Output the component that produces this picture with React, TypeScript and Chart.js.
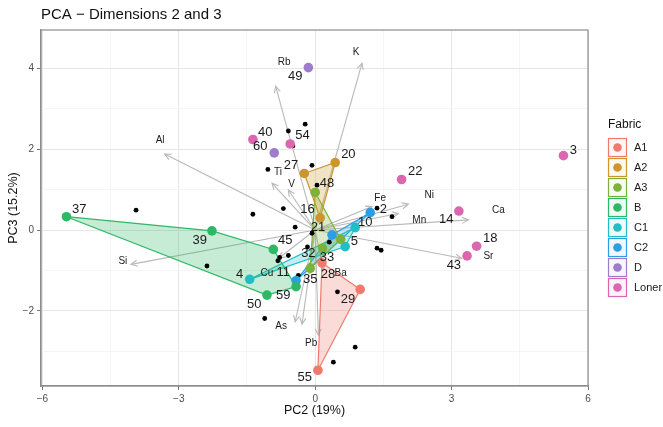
import React, { useEffect, useRef } from 'react';
import { Chart, registerables } from 'chart.js';

Chart.register(...registerables);

const FONT = "'Liberation Sans', Arial, Helvetica, sans-serif";

const chartTitle = 'PCA \u2212 Dimensions 2 and 3';
const xTitle = 'PC2 (19%)';
const yTitle = 'PC3 (15.2%)';
const legendTitle = 'Fabric';

const fabrics = ['A1', 'A2', 'A3', 'B', 'C1', 'C2', 'D', 'Loner'];
const fabricColors = ['#F07A6C', '#CC962C', '#7CB23A', '#2DB865', '#22BEC6', '#2C9EE4', '#9E7CCB', '#DC66B0'];
const hullFabrics = ['A1', 'A2', 'A3', 'B', 'C1', 'C2'];

const xTicks = [-6, -4.5, -3, -1.5, 0, 1.5, 3, 4.5, 6];
const yTicks = [-3, -2, -1, 0, 1, 2, 3, 4];
const xRange = [-6.03, 6.0];
const yRange = [-3.86, 4.95];

// Samples with a fabric group
const sampleIds = ['55', '28', '29', '27', '20', '16', '48', '33', '32', '11', '37', '39', '45', '59', '50', '4', '10', '5', '2', '21', '35', '49', '60', '3', '22', '40', '54', '14', '18', '43'];
const sampleFabric = ['A1', 'A1', 'A1', 'A2', 'A2', 'A2', 'A3', 'A3', 'A3', 'A3', 'B', 'B', 'B', 'B', 'B', 'C1', 'C1', 'C1', 'C2', 'C2', 'C2', 'D', 'D', 'Loner', 'Loner', 'Loner', 'Loner', 'Loner', 'Loner', 'Loner'];
const samplePC2 = [0.06, 0.15, 0.99, -0.24, 0.44, 0.11, 0.0, 0.56, 0.16, -0.11, -5.47, -2.27, -0.92, -0.42, -1.06, -1.44, 0.88, 0.66, 1.21, 0.37, -0.42, -0.15, -0.9, 5.46, 1.9, -1.37, -0.55, 3.16, 3.55, 3.34];
const samplePC3 = [-3.47, -0.81, -1.47, 1.4, 1.67, 0.3, 0.93, -0.23, -0.45, -0.95, 0.33, -0.02, -0.48, -1.4, -1.61, -1.22, 0.06, -0.41, 0.43, -0.12, -1.25, 4.02, 1.91, 1.84, 1.25, 2.24, 2.13, 0.47, -0.4, -0.64];
const labelPC2 = [-0.23, 0.28, 0.72, -0.53, 0.73, -0.17, 0.26, 0.26, -0.15, -0.7, -5.19, -2.54, -0.66, -0.7, -1.34, -1.66, 1.1, 0.86, 1.5, 0.06, -0.11, -0.44, -1.21, 5.68, 2.2, -1.1, -0.28, 2.88, 3.85, 3.05];
const labelPC3 = [-3.66, -1.11, -1.72, 1.59, 1.87, 0.51, 1.15, -0.68, -0.58, -1.06, 0.52, -0.25, -0.25, -1.61, -1.83, -1.09, 0.19, -0.29, 0.51, 0.07, -1.22, 3.81, 2.06, 1.96, 1.44, 2.42, 2.33, 0.25, -0.21, -0.87];

// Samples without a fabric group (small black dots)
const otherPC2 = [-0.22, -0.59, -0.49, -0.07, -1.04, 0.04, -0.7, -3.94, -1.37, -0.44, -2.38, -0.59, -0.78, -0.82, -0.17, -0.37, -1.11, -0.07, 0.31, 1.36, 1.45, 1.36, 1.69, 0.49, 0.88, 0.4];
const otherPC3 = [2.62, 2.45, 2.08, 1.6, 1.5, 1.11, 0.53, 0.49, 0.39, 0.07, -0.89, -0.63, -0.68, -0.76, -0.42, -1.12, -2.19, -0.08, -0.3, -0.45, -0.5, 0.54, 0.33, -1.53, -2.9, -3.27];

// Variable loadings (arrows)
const varNames = ['K', 'Rb', 'Al', 'Ti', 'V', 'Si', 'Cu', 'As', '', 'Pb', 'Ba', 'Fe', 'Ni', 'Mn', 'Ca', 'Sr'];
const varPC2 = [1.03, -0.87, -3.31, -0.95, -0.59, -4.05, -0.8, -0.44, -0.29, 0.07, 0.18, 1.25, 2.05, 1.83, 3.37, 3.22];
const varPC3 = [4.13, 3.56, 1.88, 1.16, 0.99, -0.85, -0.7, -2.27, -2.33, -2.6, -1.0, 0.58, 0.64, 0.41, 0.25, -0.7];
const varLabelPC2 = [0.9, -0.68, -3.41, -0.82, -0.52, -4.23, -1.06, -0.75, 0, -0.09, 0.56, 1.43, 2.51, 2.29, 4.03, 3.81];
const varLabelPC3 = [4.4, 4.14, 2.23, 1.43, 1.13, -0.78, -1.06, -2.37, 0, -2.79, -1.07, 0.78, 0.87, 0.25, 0.48, -0.64];

function alpha(hex: string, a: number) {
  const n = parseInt(hex.slice(1), 16);
  return `rgba(${(n >> 16) & 255},${(n >> 8) & 255},${n & 255},${a})`;
}

function convexHull(pts: { x: number; y: number }[]) {
  const p = pts.slice().sort((a, b) => a.x - b.x || a.y - b.y);
  if (p.length < 3) return p;
  const cross = (o: any, a: any, b: any) => (a.x - o.x) * (b.y - o.y) - (a.y - o.y) * (b.x - o.x);
  const lower: any[] = [];
  for (const q of p) {
    while (lower.length >= 2 && cross(lower[lower.length - 2], lower[lower.length - 1], q) <= 0) lower.pop();
    lower.push(q);
  }
  const upper: any[] = [];
  for (let i = p.length - 1; i >= 0; i--) {
    const q = p[i];
    while (upper.length >= 2 && cross(upper[upper.length - 2], upper[upper.length - 1], q) <= 0) upper.pop();
    upper.push(q);
  }
  upper.pop();
  lower.pop();
  return lower.concat(upper);
}

const overlayPlugin = {
  id: 'overlay',
  beforeDatasetsDraw(chart: any) {
    const { ctx, chartArea, scales } = chart;
    const xs = scales.x;
    const ys = scales.y;
    ctx.save();
    ctx.beginPath();
    ctx.rect(chartArea.left, chartArea.top, chartArea.right - chartArea.left, chartArea.bottom - chartArea.top);
    ctx.clip();
    ctx.strokeStyle = '#b8b8b8';
    ctx.lineWidth = 1.1;
    const ox = xs.getPixelForValue(0);
    const oy = ys.getPixelForValue(0);
    for (let i = 0; i < varPC2.length; i++) {
      const tx = xs.getPixelForValue(varPC2[i]);
      const ty = ys.getPixelForValue(varPC3[i]);
      ctx.beginPath();
      ctx.moveTo(ox, oy);
      ctx.lineTo(tx, ty);
      ctx.stroke();
      const ang = Math.atan2(ty - oy, tx - ox);
      const L = 7;
      ctx.beginPath();
      ctx.moveTo(tx - L * Math.cos(ang - 0.45), ty - L * Math.sin(ang - 0.45));
      ctx.lineTo(tx, ty);
      ctx.lineTo(tx - L * Math.cos(ang + 0.45), ty - L * Math.sin(ang + 0.45));
      ctx.stroke();
    }
    ctx.restore();
  },
  afterDatasetsDraw(chart: any) {
    const { ctx, chartArea, scales } = chart;
    const xs = scales.x;
    const ys = scales.y;
    ctx.save();
    // variable labels
    ctx.fillStyle = '#1a1a1a';
    ctx.textAlign = 'center';
    ctx.textBaseline = 'middle';
    ctx.font = `10px ${FONT}`;
    for (let i = 0; i < varNames.length; i++) {
      if (!varNames[i]) continue;
      ctx.fillText(varNames[i], xs.getPixelForValue(varLabelPC2[i]), ys.getPixelForValue(varLabelPC3[i]));
    }
    // sample labels
    ctx.font = `13px ${FONT}`;
    for (let i = 0; i < sampleIds.length; i++) {
      ctx.fillText(sampleIds[i], xs.getPixelForValue(labelPC2[i]), ys.getPixelForValue(labelPC3[i]));
    }
    // panel border
    ctx.strokeStyle = '#8c8c8c';
    ctx.lineWidth = 1.2;
    ctx.strokeRect(chartArea.left, chartArea.top, chartArea.right - chartArea.left, chartArea.bottom - chartArea.top);
    // title
    ctx.textAlign = 'left';
    ctx.fillStyle = '#111';
    ctx.font = `15px ${FONT}`;
    ctx.fillText(chartTitle, chartArea.left, 15);
    // legend
    const lx = 608;
    ctx.font = `12px ${FONT}`;
    ctx.fillText(legendTitle, lx, 125);
    ctx.font = `11px ${FONT}`;
    for (let i = 0; i < fabrics.length; i++) {
      const top = 138 + i * 20;
      const c = fabricColors[i];
      ctx.fillStyle = alpha(c, 0.07);
      ctx.fillRect(lx + 0.5, top + 0.5, 18, 18);
      ctx.strokeStyle = c;
      ctx.lineWidth = 1.2;
      ctx.strokeRect(lx + 0.5, top + 0.5, 18, 18);
      ctx.fillStyle = c;
      ctx.beginPath();
      ctx.arc(lx + 9.5, top + 9.5, 4.3, 0, Math.PI * 2);
      ctx.fill();
      ctx.fillStyle = '#1a1a1a';
      ctx.fillText(fabrics[i], lx + 26, top + 10);
    }
    ctx.restore();
  },
};

export default function App() {
  const ref = useRef<HTMLCanvasElement | null>(null);

  useEffect(() => {
    document.body.style.margin = '0';
    Chart.defaults.font.family = FONT;
    const canvas = ref.current;
    if (!canvas) return;

    const datasets: any[] = [];
    fabrics.forEach((f, fi) => {
      const pts = sampleIds
        .map((_, i) => i)
        .filter((i) => sampleFabric[i] === f)
        .map((i) => ({ x: samplePC2[i], y: samplePC3[i] }));
      datasets.push({
        label: f,
        data: pts,
        order: 1,
        pointRadius: 4.8,
        pointHoverRadius: 4.8,
        pointBackgroundColor: fabricColors[fi],
        pointBorderWidth: 0,
        showLine: false,
      });
      if (hullFabrics.includes(f)) {
        const hull = convexHull(pts);
        const closed = hull.concat([hull[0]]);
        datasets.push({
          label: f + ' hull',
          data: closed,
          order: 3,
          showLine: true,
          pointRadius: 0,
          pointHoverRadius: 0,
          borderColor: fabricColors[fi],
          borderWidth: 1.2,
          backgroundColor: alpha(fabricColors[fi], 0.27),
          fill: 'shape',
          tension: 0,
        });
      }
    });
    datasets.push({
      label: 'other',
      data: otherPC2.map((x, i) => ({ x, y: otherPC3[i] })),
      order: 2,
      pointRadius: 2.4,
      pointHoverRadius: 2.4,
      pointBackgroundColor: '#000',
      pointBorderWidth: 0,
      showLine: false,
    });

    const majorX = (v: number) => Math.abs(v % 3) < 1e-9;
    const majorY = (v: number) => Math.abs(v % 2) < 1e-9;
    const fmt = (v: number) => String(v).replace('-', '\u2212');

    const chart = new Chart(canvas, {
      type: 'scatter',
      data: { datasets },
      options: {
        animation: false,
        responsive: false,
        maintainAspectRatio: false,
        events: [],
        layout: { padding: { top: 30, right: 75, left: 0, bottom: 0 } },
        plugins: { legend: { display: false }, tooltip: { enabled: false }, title: { display: false } },
        scales: {
          x: {
            type: 'linear',
            min: xRange[0],
            max: xRange[1],
            afterBuildTicks: (s: any) => {
              s.ticks = xTicks.map((v) => ({ value: v }));
            },
            afterFit: (s: any) => {
              s.height = 41;
            },
            ticks: {
              autoSkip: false,
              maxRotation: 0,
              padding: 3,
              color: '#4d4d4d',
              font: { size: 10 },
              callback: (v: any) => (majorX(Number(v)) ? fmt(Number(v)) : ''),
            },
            grid: {
              color: (c: any) => (c.tick && majorX(c.tick.value) ? '#e6e6e6' : '#f2f2f2'),
              lineWidth: (c: any) => (c.tick && majorX(c.tick.value) ? 1 : 0.8),
              tickColor: (c: any) => (c.tick && majorX(c.tick.value) ? '#777' : 'rgba(0,0,0,0)'),
              tickLength: 4,
            },
            border: { display: true, color: '#8c8c8c', width: 1.2 },
            title: { display: true, text: xTitle, color: '#111', font: { size: 12.5 }, padding: { top: 0, bottom: 9 } },
          },
          y: {
            type: 'linear',
            min: yRange[0],
            max: yRange[1],
            afterBuildTicks: (s: any) => {
              s.ticks = yTicks.map((v) => ({ value: v }));
            },
            afterFit: (s: any) => {
              s.width = 41;
            },
            ticks: {
              autoSkip: false,
              padding: 3,
              color: '#4d4d4d',
              font: { size: 10 },
              callback: (v: any) => (majorY(Number(v)) ? fmt(Number(v)) : ''),
            },
            grid: {
              color: (c: any) => (c.tick && majorY(c.tick.value) ? '#e6e6e6' : '#f2f2f2'),
              lineWidth: (c: any) => (c.tick && majorY(c.tick.value) ? 1 : 0.8),
              tickColor: (c: any) => (c.tick && majorY(c.tick.value) ? '#777' : 'rgba(0,0,0,0)'),
              tickLength: 4,
            },
            border: { display: true, color: '#8c8c8c', width: 1.2 },
            title: { display: true, text: yTitle, color: '#111', font: { size: 12.5 }, padding: { top: 6, bottom: 0 } },
          },
        },
      },
      plugins: [overlayPlugin],
    } as any);

    return () => chart.destroy();
  }, []);

  return (
    <div style={{ width: 663, height: 427, background: '#fff' }}>
      <canvas ref={ref} width={663} height={427} style={{ width: 663, height: 427, display: 'block' }} />
    </div>
  );
}
